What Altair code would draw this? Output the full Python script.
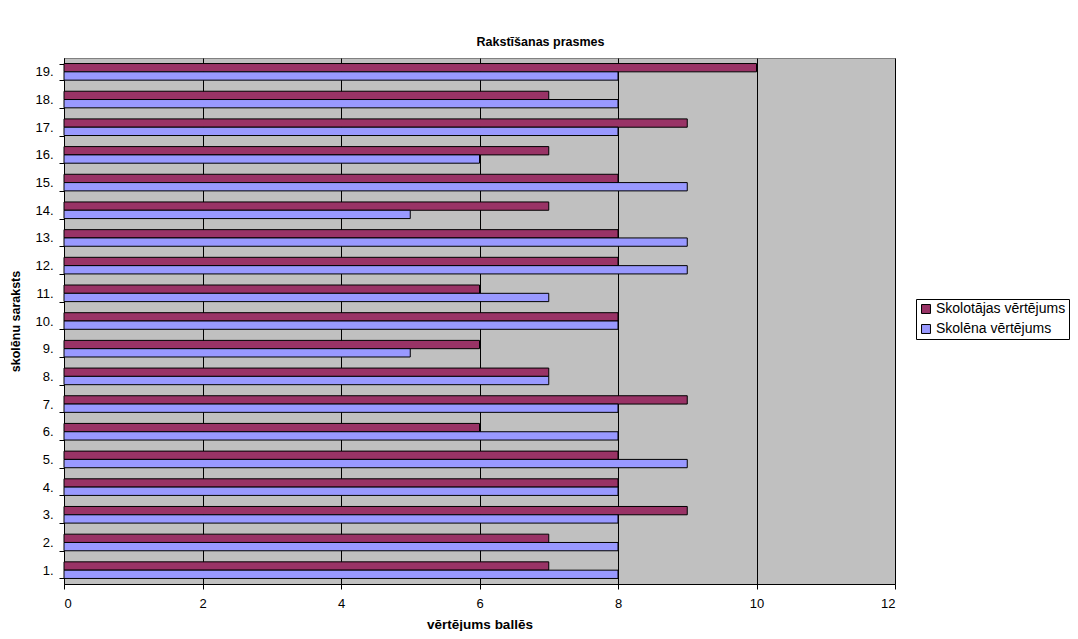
import altair as alt
import pandas as pd

students = [f"{i}." for i in range(1, 20)]
teacher = [7, 7, 9, 8, 8, 6, 9, 7, 6, 8, 6, 8, 8, 7, 8, 7, 9, 7, 10]
student = [8, 8, 8, 8, 9, 8, 8, 7, 5, 8, 7, 9, 9, 5, 9, 6, 8, 8, 8]
series = ["Skolotājas vērtējums", "Skolēna vērtējums"]
colors = ["#993366", "#9999FF"]

rows = []
for s, t, v in zip(students, teacher, student):
    rows.append({"skolnieks": s, "serija": series[0], "vertejums": t})
    rows.append({"skolnieks": s, "serija": series[1], "vertejums": v})
df = pd.DataFrame(rows)

font = "Liberation Sans"

chart = alt.Chart(df).mark_bar(stroke="black", strokeWidth=1).encode(
    x=alt.X("vertejums:Q",
            scale=alt.Scale(domain=[0, 12], nice=False, zero=True),
            axis=alt.Axis(title="vērtējums ballēs", values=[0, 2, 4, 6, 8, 10, 12],
                          grid=True, gridColor="black", gridOpacity=1, gridWidth=1,
                          domainColor="black", tickColor="black", tickSize=5,
                          labelFontSize=13, labelPadding=8, labelColor="black",
                          titleFontSize=13.5, titleFontWeight="bold", titlePadding=7,
                          titleColor="black")),
    y=alt.Y("skolnieks:N", sort=students[::-1],
            scale=alt.Scale(paddingInner=0.4, paddingOuter=0.2),
            axis=alt.Axis(title="skolēnu saraksts", bandPosition=0, tickBand="extent",
                          domainColor="black", tickColor="black", tickSize=5,
                          labelFontSize=13, labelPadding=6, labelColor="black",
                          titleFontSize=12.5, titleFontWeight="bold", titlePadding=12,
                          titleColor="black")),
    yOffset=alt.YOffset("serija:N", sort=series),
    color=alt.Color("serija:N", sort=series,
                    scale=alt.Scale(domain=series, range=colors),
                    legend=alt.Legend(title=None, orient="none", legendX=852, legendY=241,
                                      symbolType="square", symbolStrokeColor="black",
                                      symbolStrokeWidth=1, symbolSize=80, symbolOpacity=1,
                                      labelFontSize=14, labelLimit=300, labelColor="black",
                                      strokeColor="black", padding=3, rowPadding=6,
                                      fillColor="white", labelOffset=3)),
).properties(
    width=831,
    height=526,
    title=alt.TitleParams("Rakstīšanas prasmes", fontSize=12.5, fontWeight="bold",
                          font=font, color="black", dx=61, offset=4),
    padding={"left": 56, "top": 50, "right": 175, "bottom": 47},
    autosize=alt.AutoSizeParams(type="none"),
).configure(font=font).configure_view(
    fill="#C0C0C0", stroke="#808080", strokeWidth=1
)

chart.save("out.html", embed_options={"renderer": "svg", "actions": False})
